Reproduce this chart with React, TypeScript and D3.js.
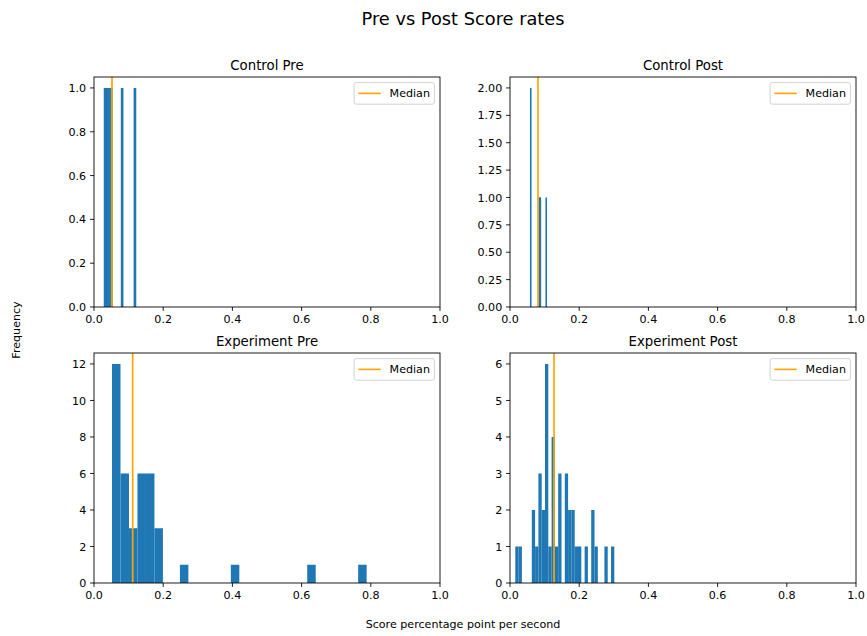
import React from "react";
import * as d3 from "d3";

const W = 867;
const H = 636;

const FONT = "DejaVu Sans, Liberation Sans, sans-serif";
const BAR = "#1f77b4";
const MEDIAN = "#ffa500";

// Histogram data: 30 equal-width bins spanning each group's [min, max]
const panelTitles = ["Control Pre", "Control Post", "Experiment Pre", "Experiment Post"];

const controlPreRange = [0.0289, 0.1214];
const controlPreCounts = [
  1, 1, 1, 1, 1, 1, 1, 1, 0, 0,
  0, 0, 0, 0, 0, 0, 1, 1, 0, 0,
  0, 0, 0, 0, 0, 0, 0, 0, 1, 1,
];

const controlPostRange = [0.0592, 0.1055];
const controlPostCounts = [
  2, 0, 0, 0, 0, 0, 0, 0, 0, 0,
  0, 0, 0, 0, 0, 0, 1, 1, 1, 0,
  0, 0, 0, 0, 0, 0, 0, 0, 0, 1,
];

const experimentPreRange = [0.052, 0.788];
const experimentPreCounts = [
  12, 6, 3, 6, 6, 3, 0, 0, 1, 0,
  0, 0, 0, 0, 1, 0, 0, 0, 0, 0,
  0, 0, 0, 1, 0, 0, 0, 0, 0, 1,
];

const experimentPostRange = [0.0153, 0.3015];
const experimentPostCounts = [
  1, 1, 0, 0, 0, 2, 1, 3, 2, 6,
  1, 4, 1, 3, 0, 3, 2, 2, 1, 1,
  0, 1, 0, 2, 1, 0, 0, 1, 0, 1,
];

const medians = [0.052, 0.0809, 0.1118, 0.1272];

const yMaxes = [1.05, 2.1, 12.6, 6.3];
const yTickValues = [
  [0, 0.2, 0.4, 0.6, 0.8, 1.0],
  [0, 0.25, 0.5, 0.75, 1.0, 1.25, 1.5, 1.75, 2.0],
  [0, 2, 4, 6, 8, 10, 12],
  [0, 1, 2, 3, 4, 5, 6],
];
const yTickFormats = [".1f", ".2f", "d", "d"];
const xTickValues = [0, 0.2, 0.4, 0.6, 0.8, 1.0];

const ranges = [controlPreRange, controlPostRange, experimentPreRange, experimentPostRange];
const counts = [controlPreCounts, controlPostCounts, experimentPreCounts, experimentPostCounts];

// Figure layout
const colLeft = [94, 510];
const rowTop = [77, 353];
const axW = 346;
const axH = 230;

const FS = 11.1; // tick / label font size
const TITLE_FS = 13.3;
const SUP_FS = 17.8;
const TICK_LEN = 3.9;
const TICK_PAD = 3.9;
const LW = 0.89;

function Panel({ idx }: { idx: number }) {
  const left = colLeft[idx % 2];
  const top = rowTop[Math.floor(idx / 2)];
  const x = d3.scaleLinear().domain([0, 1]).range([left, left + axW]);
  const y = d3.scaleLinear().domain([0, yMaxes[idx]]).range([top + axH, top]);
  const [lo, hi] = ranges[idx];
  const nb = counts[idx].length;
  const bw = (hi - lo) / nb;
  const fmt = d3.format(yTickFormats[idx]);
  const xfmt = d3.format(".1f");

  const bars = counts[idx]
    .map((c, i) => {
      if (c <= 0) return null;
      let x0 = x(lo + i * bw);
      let x1 = x(lo + (i + 1) * bw);
      if (x1 - x0 < 1.6) {
        const cx = (x0 + x1) / 2;
        x0 = cx - 0.8;
        x1 = cx + 0.8;
      }
      return (
        <rect key={i} x={x0} y={y(c)} width={x1 - x0} height={y(0) - y(c)} fill={BAR} />
      );
    })
    .filter(Boolean);

  const mx = x(medians[idx]);

  // legend box in the upper-right corner
  const legW = 80.3;
  const legH = 21.6;
  const legX = left + axW - 5.6 - legW;
  const legY = top + 5.6;
  const legCy = legY + legH / 2;

  return (
    <g>
      {bars}
      <line x1={mx} x2={mx} y1={top} y2={top + axH} stroke={MEDIAN} strokeWidth={1.67} />
      {/* spines */}
      <rect x={left} y={top} width={axW} height={axH} fill="none" stroke="#000" strokeWidth={LW} />
      {/* x ticks */}
      {xTickValues.map((t) => (
        <g key={"x" + t}>
          <line x1={x(t)} x2={x(t)} y1={top + axH} y2={top + axH + TICK_LEN} stroke="#000" strokeWidth={LW} />
          <text
            x={x(t)}
            y={top + axH + TICK_LEN + TICK_PAD + 8.1}
            textAnchor="middle"
            fontSize={FS}
            fontFamily={FONT}
          >
            {xfmt(t)}
          </text>
        </g>
      ))}
      {/* y ticks */}
      {yTickValues[idx].map((t) => (
        <g key={"y" + t}>
          <line x1={left - TICK_LEN} x2={left} y1={y(t)} y2={y(t)} stroke="#000" strokeWidth={LW} />
          <text
            x={left - TICK_LEN - TICK_PAD}
            y={y(t) + 4.05}
            textAnchor="end"
            fontSize={FS}
            fontFamily={FONT}
          >
            {fmt(t)}
          </text>
        </g>
      ))}
      <text
        x={left + axW / 2}
        y={top - 6.7}
        textAnchor="middle"
        fontSize={TITLE_FS}
        fontFamily={FONT}
      >
        {panelTitles[idx]}
      </text>
      {/* legend */}
      <rect
        x={legX}
        y={legY}
        width={legW}
        height={legH}
        rx={2.2}
        fill="#fff"
        fillOpacity={0.8}
        stroke="#cccccc"
        strokeWidth={LW}
      />
      <line x1={legX + 4.4} x2={legX + 26.6} y1={legCy} y2={legCy} stroke={MEDIAN} strokeWidth={1.67} />
      <text x={legX + 35.5} y={legCy + 4} fontSize={FS} fontFamily={FONT}>
        Median
      </text>
    </g>
  );
}

export default function App() {
  return (
    <svg
      width={W}
      height={H}
      viewBox={`0 0 ${W} ${H}`}
      style={{ position: "absolute", left: 0, top: 0, background: "#fff" }}
    >
      <rect x={0} y={0} width={W} height={H} fill="#fff" />
      <text x={463} y={24.5} textAnchor="middle" fontSize={SUP_FS} fontFamily={FONT}>
        Pre vs Post Score rates
      </text>
      {[0, 1, 2, 3].map((i) => (
        <Panel key={i} idx={i} />
      ))}
      <text x={463} y={628} textAnchor="middle" fontSize={FS} fontFamily={FONT}>
        Score percentage point per second
      </text>
      <text transform="translate(20,330) rotate(-90)" textAnchor="middle" fontSize={FS} fontFamily={FONT}>
        Frequency
      </text>
    </svg>
  );
}
